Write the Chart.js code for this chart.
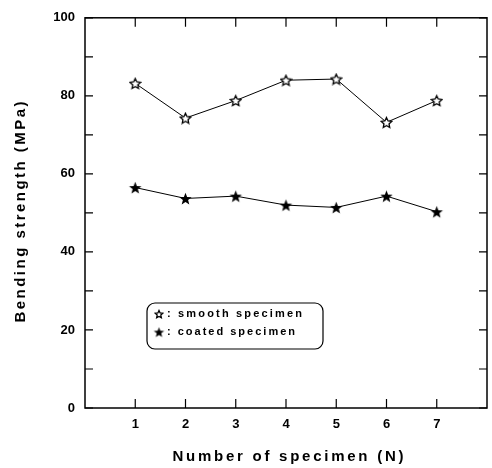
<!DOCTYPE html>
<html>
<head>
<meta charset="utf-8">
<script src="https://cdn.jsdelivr.net/npm/chart.js@4"></script>
<style>
  html, body { margin: 0; padding: 0; background: #fff; }
  #wrap { width: 492px; height: 468px; }
</style>
</head>
<body>
<div id="wrap"><canvas id="chart" width="492" height="468"></canvas></div>
<script>
// data
const specimens = [1, 2, 3, 4, 5, 6, 7];
const smoothStrength = [83.2, 74.3, 78.8, 84.0, 84.3, 73.2, 78.8];
const coatedStrength = [56.5, 53.7, 54.3, 52.0, 51.4, 54.3, 50.3];
const yTickLabels = [0, 20, 40, 60, 80, 100];
const yMinorTicks = [10, 30, 50, 70, 90];
const legendLabels = [': smooth specimen', ': coated specimen'];

const FONT = "'Liberation Sans', Arial, sans-serif";

// 5-point star drawn on a small canvas, used as point style
function starImage(size, filled) {
  const c = document.createElement('canvas');
  c.width = size; c.height = size;
  const g = c.getContext('2d');
  const cx = size / 2, cy = size / 2 + size * 0.05;
  const R = size / 2 - 1, r = R * (filled ? 0.42 : 0.48);
  g.beginPath();
  for (let i = 0; i < 10; i++) {
    const a = -Math.PI / 2 + i * Math.PI / 5;
    const rad = i % 2 ? r : R;
    const px = cx + rad * Math.cos(a), py = cy + rad * Math.sin(a);
    if (i === 0) g.moveTo(px, py); else g.lineTo(px, py);
  }
  g.closePath();
  if (filled) {
    g.fillStyle = '#000';
    g.fill();
  } else {
    g.fillStyle = '#fff';
    g.fill();
    g.lineWidth = 1.3;
    g.strokeStyle = '#000';
    g.stroke();
  }
  return c;
}

const openStar = starImage(13, false);
const fullStar = starImage(15, true);
const openStarSmall = starImage(10, false);
const fullStarSmall = starImage(13, true);

// text with letter spacing fitted to a target width
function spacedText(ctx, text, x, y, width, align) {
  ctx.letterSpacing = '0px';
  const w = ctx.measureText(text).width;
  const sp = Math.max(0, (width - w) / (text.length - 1));
  ctx.letterSpacing = sp + 'px';
  ctx.textAlign = 'left';
  const full = w + sp * (text.length - 1);
  ctx.fillText(text, align === 'left' ? x : x - full / 2, y);
  ctx.letterSpacing = '0px';
}

const framePlugin = {
  id: 'frame',
  afterDraw(chart) {
    const ctx = chart.ctx;
    const { left, right, top, bottom } = chart.chartArea;
    const xs = chart.scales.x, ys = chart.scales.y;
    ctx.save();
    ctx.strokeStyle = '#000';
    ctx.lineWidth = 1.5;
    ctx.strokeRect(left, top, right - left, bottom - top);

    ctx.lineWidth = 1.2;
    ctx.beginPath();
    specimens.forEach(v => {
      const px = xs.getPixelForValue(v);
      ctx.moveTo(px, bottom); ctx.lineTo(px, bottom - 9);
      ctx.moveTo(px, top); ctx.lineTo(px, top + 9);
    });
    yTickLabels.concat(yMinorTicks).forEach(v => {
      const py = ys.getPixelForValue(v);
      ctx.moveTo(left, py); ctx.lineTo(left + 8, py);
      ctx.moveTo(right, py); ctx.lineTo(right - 8, py);
    });
    ctx.stroke();

    // axis titles
    ctx.fillStyle = '#000';
    ctx.font = 'bold 15px ' + FONT;
    ctx.textBaseline = 'middle';
    spacedText(ctx, 'Number of specimen (N)', 288, 457, 231);
    ctx.save();
    ctx.translate(21, 212);
    ctx.rotate(-Math.PI / 2);
    spacedText(ctx, 'Bending strength (MPa)', 0, 0, 221);
    ctx.restore();

    // legend box
    ctx.lineWidth = 1.2;
    ctx.beginPath();
    ctx.roundRect(147, 303, 176, 46, 8);
    ctx.stroke();
    ctx.drawImage(openStarSmall, 159 - 5, 314 - 5);
    ctx.drawImage(fullStarSmall, 159 - 6.5, 332 - 6.5);
    ctx.font = 'bold 11px ' + FONT;
    spacedText(ctx, legendLabels[0], 167, 314, 135, 'left');
    spacedText(ctx, legendLabels[1], 167, 332, 128, 'left');
    ctx.restore();
  }
};

new Chart(document.getElementById('chart'), {
  type: 'line',
  data: {
    datasets: [
      {
        label: 'smooth specimen',
        data: specimens.map((x, i) => ({ x, y: smoothStrength[i] })),
        borderColor: '#000',
        borderWidth: 1,
        pointStyle: openStar,
        tension: 0
      },
      {
        label: 'coated specimen',
        data: specimens.map((x, i) => ({ x, y: coatedStrength[i] })),
        borderColor: '#000',
        borderWidth: 1,
        pointStyle: fullStar,
        tension: 0
      }
    ]
  },
  options: {
    responsive: false,
    animation: false,
    events: [],
    layout: { padding: { top: 16, right: 2, left: 0, bottom: 0 } },
    plugins: { legend: { display: false }, tooltip: { enabled: false } },
    scales: {
      x: {
        type: 'linear',
        min: 0,
        max: 8,
        afterFit: s => { s.height = 60; },
        afterBuildTicks: s => { s.ticks = specimens.map(v => ({ value: v })); },
        ticks: {
          color: '#000',
          padding: 9,
          maxRotation: 0,
          font: { family: FONT, size: 13, weight: 'bold' },
          callback: v => String(v)
        },
        grid: { display: false, drawTicks: false },
        border: { display: false }
      },
      y: {
        min: 0,
        max: 100,
        afterFit: s => { s.width = 85; },
        afterBuildTicks: s => { s.ticks = yTickLabels.map(v => ({ value: v })); },
        ticks: {
          color: '#000',
          padding: 10,
          font: { family: FONT, size: 13, weight: 'bold' }
        },
        grid: { display: false, drawTicks: false },
        border: { display: false }
      }
    }
  },
  plugins: [framePlugin]
});
</script>
</body>
</html>
